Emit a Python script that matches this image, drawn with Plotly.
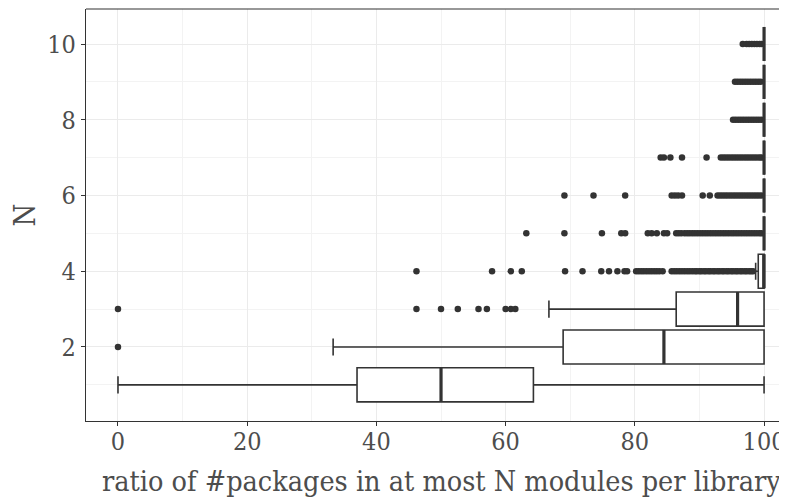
import plotly.graph_objects as go

# ---- data ----
levels = [1, 2, 3, 4, 5, 6, 7, 8, 9, 10]
q1 = [37.0, 68.9, 86.4, 99.1, 100, 100, 100, 100, 100, 100]
medians = [50.0, 84.5, 95.9, 100, 100, 100, 100, 100, 100, 100]
q3 = [64.3, 100, 100, 100, 100, 100, 100, 100, 100, 100]
lower_whisker = [0.0, 33.3, 66.7, 98.7, 100, 100, 100, 100, 100, 100]
upper_whisker = [100, 100, 100, 100, 100, 100, 100, 100, 100, 100]

out_n2 = [0.0]
out_n3 = [0.0, 46.2, 50.0, 52.6, 55.8, 57.1, 60.0, 60.8, 61.5]
out_n4 = [46.2, 57.9, 60.8, 62.5, 69.2, 71.9, 74.8, 76.0, 77.3, 78.4, 78.8,
          80.2, 80.6, 81.0, 81.4, 81.8, 82.2, 82.6, 83.0, 83.4, 83.8, 84.3,
          85.7, 86.1, 86.5, 86.9, 87.3, 87.7, 88.1, 88.5, 88.9, 89.3, 89.6,
          90.0, 90.3, 90.7, 91.0, 91.4, 91.7, 92.1, 92.4, 92.8, 93.1, 93.5,
          93.8, 94.2, 94.5, 94.9, 95.2, 95.6, 95.9, 96.3, 96.6, 97.0, 97.3,
          97.7, 98.0, 98.3]
out_n5 = [63.2, 69.1, 74.9, 77.9, 78.5, 82.0, 82.6, 83.4, 84.5, 85.0, 86.4,
          86.8, 87.2, 87.7, 88.1, 88.5, 88.9, 89.3, 89.7, 90.1, 90.5, 90.9,
          91.3, 91.7, 92.1, 92.5, 92.9, 93.3, 93.7, 94.1, 94.5, 94.9, 95.3,
          95.7, 96.1, 96.5, 96.9, 97.3, 97.7, 98.1, 98.5, 98.9, 99.3, 99.6]
out_n6 = [69.1, 73.6, 78.5, 85.7, 86.2, 86.7, 87.3, 90.5, 91.6, 92.8, 93.2,
          93.6, 94.0, 94.4, 94.8, 95.2, 95.6, 96.0, 96.4, 96.8, 97.2, 97.6,
          98.0, 98.4, 98.8, 99.2, 99.6]
out_n7 = [84.0, 84.5, 85.5, 87.3, 91.1, 93.3, 93.7, 94.1, 94.5, 94.9, 95.3,
          95.7, 96.1, 96.5, 96.9, 97.3, 97.7, 98.1, 98.5, 98.9, 99.3, 99.6]
out_n8 = [95.2, 95.6, 96.0, 96.4, 96.8, 97.2, 97.6, 98.0, 98.4, 98.8, 99.2, 99.6]
out_n9 = [95.5, 95.9, 96.3, 96.7, 97.1, 97.5, 97.9, 98.3, 98.7, 99.1, 99.5]
out_n10 = [96.7, 97.3, 97.7, 98.1, 98.5, 98.9, 99.3, 99.6]

outliers = {2: out_n2, 3: out_n3, 4: out_n4, 5: out_n5, 6: out_n6,
            7: out_n7, 8: out_n8, 9: out_n9, 10: out_n10}

x_ticks = [0, 20, 40, 60, 80, 100]
y_ticks = [2, 4, 6, 8, 10]
x_title = "ratio of #packages in at most N modules per library"
y_title = "N"

# ---- styling ----
FONT = "DejaVu Serif Condensed, DejaVu Serif"
DARK = "#333333"
TXT = "#4D4D4D"
BOX_W = 0.9

fig = go.Figure()

# outliers
ox, oy = [], []
for lvl, vals in outliers.items():
    ox.extend(vals)
    oy.extend([lvl] * len(vals))
fig.add_trace(go.Scatter(x=ox, y=oy, mode="markers",
                         marker=dict(color=DARK, size=6.5, line=dict(width=0)),
                         showlegend=False, hoverinfo="skip"))

# boxes
fig.add_trace(go.Box(
    y=levels, q1=q1, median=medians, q3=q3,
    lowerfence=lower_whisker, upperfence=upper_whisker,
    orientation="h", width=BOX_W, whiskerwidth=0.5,
    boxpoints=False, fillcolor="white",
    line=dict(color=DARK, width=1.6), showlegend=False))

# thicker median lines
mx, my = [], []
for lvl, m in zip(levels, medians):
    mx += [m, m, None]
    my += [lvl - BOX_W / 2, lvl + BOX_W / 2, None]
fig.add_trace(go.Scatter(x=mx, y=my, mode="lines",
                         line=dict(color=DARK, width=3.2),
                         showlegend=False, hoverinfo="skip"))

fig.update_layout(
    width=779, height=492,
    margin=dict(l=78, r=0, t=1, b=79),
    paper_bgcolor="white", plot_bgcolor="white",
    font=dict(family=FONT, color=TXT),
    showlegend=False,
    xaxis=dict(range=[-4.95, 103.55], tickvals=x_ticks,
               ticks="outside", ticklen=4, tickwidth=1, tickcolor=DARK,
               ticklabelstandoff=-6,
               tickfont=dict(family=FONT, size=25, color=TXT),
               showgrid=True, gridcolor="#EBEBEB", gridwidth=1.2,
               minor=dict(dtick=10, tick0=10, showgrid=True,
                          gridcolor="#F3F3F3", gridwidth=1),
               zeroline=False, showline=True, linecolor=DARK, linewidth=1.2),
    yaxis=dict(range=[0.046, 10.924], tickvals=y_ticks,
               ticks="outside", ticklen=4, tickwidth=1, tickcolor=DARK,
               tickfont=dict(family=FONT, size=25, color=TXT),
               showgrid=True, gridcolor="#EBEBEB", gridwidth=1.2,
               minor=dict(dtick=1, tick0=1, showgrid=True,
                          gridcolor="#F3F3F3", gridwidth=1),
               zeroline=False, showline=True, linecolor=DARK, linewidth=1.2,
               title=dict(text=y_title, font=dict(family=FONT, size=29, color=TXT),
                          standoff=14)),
    shapes=[dict(type="line", xref="paper", yref="paper", x0=0, x1=1, y0=1, y1=1,
                 line=dict(color=DARK, width=1.2))],
    annotations=[dict(text=x_title, xref="x", yref="paper", x=50, y=-0.148,
                      xanchor="center", yanchor="middle", showarrow=False,
                      font=dict(family=FONT, size=28.5, color=TXT))],
)

fig.write_html("out.html")
